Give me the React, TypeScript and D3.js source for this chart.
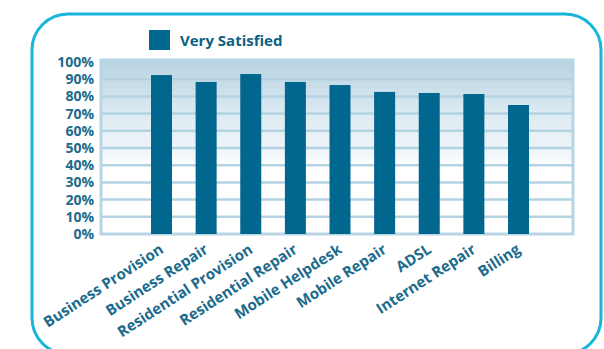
import React from "react";
import * as d3 from "d3";

const categories = [
  "Business Provision",
  "Business Repair",
  "Residential Provision",
  "Residential Repair",
  "Mobile Helpdesk",
  "Mobile Repair",
  "ADSL",
  "Internet Repair",
  "Billing",
];
const verySatisfied = [92.4, 88.4, 93.0, 88.4, 86.6, 82.6, 82.0, 81.4, 75.0];
const yTicks = [0, 10, 20, 30, 40, 50, 60, 70, 80, 90, 100];
const seriesName = "Very Satisfied";

const W = 604;
const H = 349;
const FONT = "'Open Sans', 'DejaVu Sans', sans-serif";
const TEXT = "#1b6b8c";
const BAR = "#02678f";
const GRID = "#b3d3e2";

export default function App() {
  const plotL = 101;
  const plotR = 573;
  const plotT = 60;
  const y = d3.scaleLinear().domain([0, 100]).range([234, 62]);
  const x = d3
    .scaleBand<string>()
    .domain(categories)
    .range([139.2, 540.8])
    .paddingInner(0.53)
    .paddingOuter(0.265);
  const bw = 21;
  const cx = (c: string) => (x(c) as number) + x.bandwidth() / 2;

  return (
    <svg
      width={W}
      height={H}
      style={{ position: "absolute", left: 0, top: 0, display: "block" }}
      fontFamily={FONT}
    >
      <defs>
        <linearGradient id="bg" x1="0" y1="0" x2="0" y2="1">
          <stop offset="0" stopColor="#b6d3e1" />
          <stop offset="0.3" stopColor="#dceaf2" />
          <stop offset="0.55" stopColor="#f2f7fa" />
          <stop offset="0.6" stopColor="#ffffff" />
          <stop offset="1" stopColor="#ffffff" />
        </linearGradient>
      </defs>
      <rect width={W} height={H} fill="#ffffff" />
      <rect
        x={32}
        y={14}
        width={569}
        height={340}
        rx={36}
        ry={36}
        fill="none"
        stroke="#17b4dc"
        strokeWidth={3}
      />
      {/* legend */}
      <rect x={149} y={30} width={21} height={20} fill={BAR} />
      <text x={180} y={46} fontSize={15} fontWeight={700} fill="#0c6183">
        {seriesName}
      </text>
      {/* plot background */}
      <rect
        x={plotL}
        y={plotT}
        width={plotR - plotL}
        height={234 - plotT}
        fill="url(#bg)"
      />
      {yTicks
        .filter((t) => t > 0 && t < 100)
        .map((t) => (
          <line
            key={t}
            x1={plotL}
            x2={plotR}
            y1={y(t)}
            y2={y(t)}
            stroke={GRID}
            strokeWidth={2.5}
          />
        ))}
      <rect
        x={plotL}
        y={plotT}
        width={plotR - plotL}
        height={234 - plotT}
        fill="none"
        stroke="#b7d5e4"
        strokeWidth={3}
      />
      {categories.map((c, i) => (
        <rect
          key={c}
          x={cx(c) - bw / 2}
          y={y(verySatisfied[i])}
          width={bw}
          height={y(0) - y(verySatisfied[i])}
          fill={BAR}
        />
      ))}
      {yTicks.map((t) => (
        <text
          key={t}
          x={94}
          y={y(t)}
          dy="0.36em"
          textAnchor="end"
          fontSize={14}
          fontWeight={700}
          fill={TEXT}
        >
          {t + "%"}
        </text>
      ))}
      {categories.map((c) => (
        <text
          key={c}
          transform={`translate(${cx(c) + 3},${252}) rotate(-33)`}
          textAnchor="end"
          fontSize={15}
          fontWeight={700}
          fill={TEXT}
        >
          {c}
        </text>
      ))}
    </svg>
  );
}
